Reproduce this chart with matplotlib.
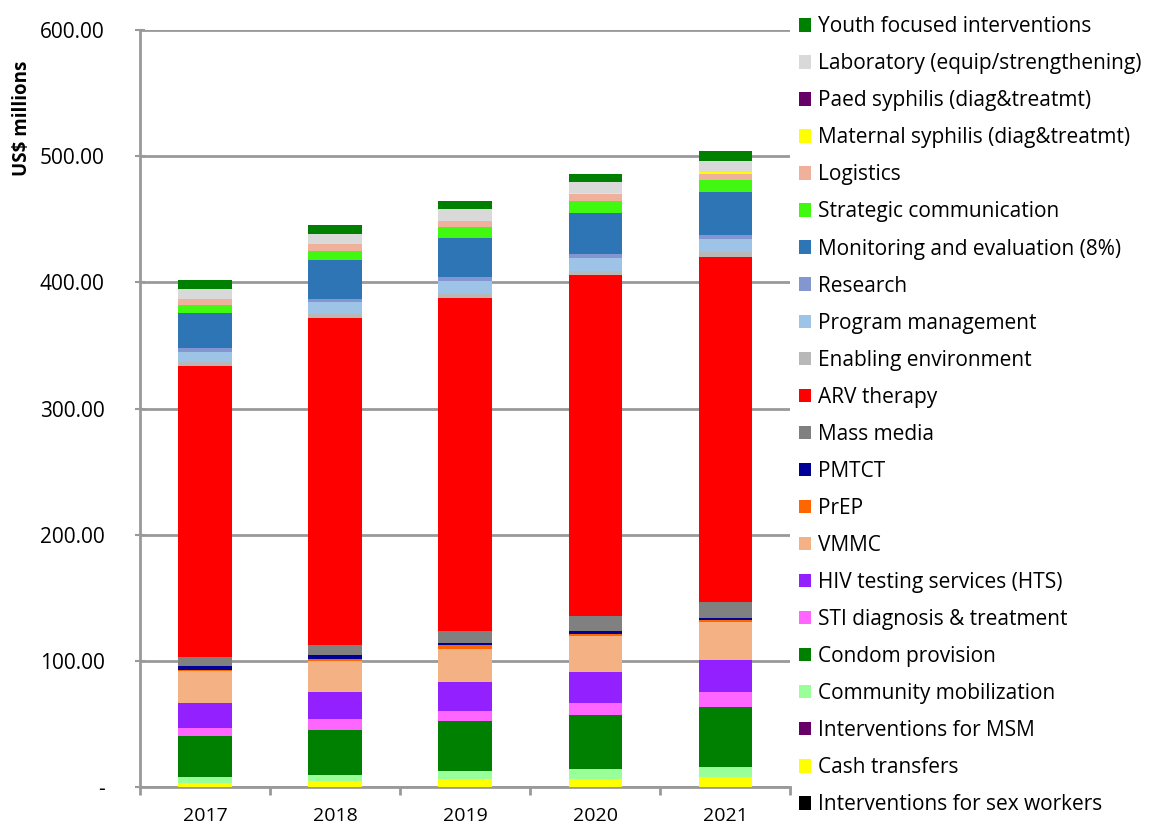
import numpy as np
import matplotlib
matplotlib.use("Agg")
import matplotlib.pyplot as plt

plt.rcParams['font.family'] = ['Open Sans', 'DejaVu Sans']

# ---------------------------------------------
# data (US$ millions), bottom of stack first
years = ["2017", "2018", "2019", "2020", "2021"]

sex_workers   = [0.3, 0.3, 0.3, 0.3, 0.3]
cash          = [3.0, 4.6, 6.2, 6.2, 7.8]
msm           = [0.2, 0.2, 0.2, 0.2, 0.2]
community     = [4.8, 5.0, 6.6, 8.2, 8.1]
condom        = [32.7, 35.7, 39.0, 42.2, 47.0]
sti           = [6.3, 8.1, 8.5, 10.1, 11.9]
hts           = [19.6, 21.4, 22.5, 24.3, 25.9]
vmmc          = [25.1, 24.6, 26.4, 28.2, 29.6]
prep          = [1.3, 1.6, 3.2, 1.6, 1.6]
pmtct         = [3.2, 3.1, 1.3, 2.9, 1.8]
mass_media    = [6.6, 8.5, 10.0, 11.3, 13.0]
arv           = [230.5, 258.9, 263.3, 270.2, 273.1]
enabling      = [3.2, 3.4, 3.7, 3.8, 3.7]
prog_mgmt     = [8.0, 9.0, 9.8, 10.0, 10.6]
research      = [3.2, 2.6, 3.2, 3.2, 2.9]
monitoring    = [27.5, 30.6, 31.2, 32.5, 34.0]
strategic     = [6.6, 7.7, 8.4, 9.2, 9.5]
logistics     = [4.5, 5.3, 4.7, 5.3, 5.3]
maternal_syph = [0.0, 0.0, 0.5, 1.0, 1.0]
paed_syph     = [0.0, 0.0, 0.0, 0.0, 0.3]
laboratory    = [7.9, 8.0, 9.4, 8.7, 8.5]
youth         = [7.1, 6.8, 6.5, 6.9, 8.2]

series = [
    ("Interventions for sex workers", sex_workers, "#000000"),
    ("Cash transfers", cash, "#FFFF00"),
    ("Interventions for MSM", msm, "#660066"),
    ("Community mobilization", community, "#99FF99"),
    ("Condom provision", condom, "#008000"),
    ("STI diagnosis & treatment", sti, "#FF66FF"),
    ("HIV testing services (HTS)", hts, "#9320FF"),
    ("VMMC", vmmc, "#F4B183"),
    ("PrEP", prep, "#FF6600"),
    ("PMTCT", pmtct, "#000099"),
    ("Mass media", mass_media, "#808080"),
    ("ARV therapy", arv, "#FF0000"),
    ("Enabling environment", enabling, "#B8B8B8"),
    ("Program management", prog_mgmt, "#9DC3E6"),
    ("Research", research, "#8496D0"),
    ("Monitoring and evaluation (8%)", monitoring, "#2E75B6"),
    ("Strategic communication", strategic, "#40F810"),
    ("Logistics", logistics, "#EFB09C"),
    ("Maternal syphilis (diag&treatmt)", maternal_syph, "#FFFF00"),
    ("Paed syphilis (diag&treatmt)", paed_syph, "#660066"),
    ("Laboratory (equip/strengthening)", laboratory, "#D9D9D9"),
    ("Youth focused interventions", youth, "#008000"),
]

# ---------------------------------------------
fig = plt.figure(figsize=(11.57, 8.24), dpi=100)
ax = fig.add_axes([0.121, 0.0443, 0.562, 0.9193])

x = np.arange(len(years))
bottom = np.zeros(len(years))
handles = []
for name, vals, col in series:
    vals = np.array(vals)
    b = ax.bar(x, vals, width=0.41, bottom=bottom, color=col, label=name,
               edgecolor='none', zorder=3)
    handles.append(b)
    bottom += vals

ax.set_xlim(-0.5, 4.5)
ax.set_ylim(0, 600)
ax.set_yticks(np.arange(0, 601, 100))
ax.set_yticklabels(["-" if v == 0 else f"{v:.2f}" for v in range(0, 601, 100)])
ax.yaxis.grid(True, color='#999999', linewidth=2, zorder=0)
ax.set_xticks(x)
ax.set_xticklabels(years)
ax.set_xticks(np.arange(-0.5, 4.6, 1), minor=True)
ax.tick_params(axis='x', which='major', length=0, labelsize=14, pad=14)
ax.tick_params(axis='x', which='minor', length=6, width=2, color='#999999', direction='out')
ax.tick_params(axis='y', length=7, width=1.5, color='#999999', labelsize=15, pad=22,
               direction='inout')
for s in ['top', 'right']:
    ax.spines[s].set_visible(False)
for s in ['left', 'bottom']:
    ax.spines[s].set_color('#999999')
    ax.spines[s].set_linewidth(2)

fig.text(0.019, 0.857, "US$ millions", rotation=90, fontsize=13.5, fontweight='bold',
         ha='center', va='center')

leg = fig.legend(handles[::-1], [s[0] for s in series][::-1], loc='upper left',
                 bbox_to_anchor=(0.674, 1.003), frameon=False, fontsize=15,
                 handlelength=0.62, handleheight=0.62, handletextpad=0.3,
                 labelspacing=0.77)

fig.savefig("out.png", dpi=100)
